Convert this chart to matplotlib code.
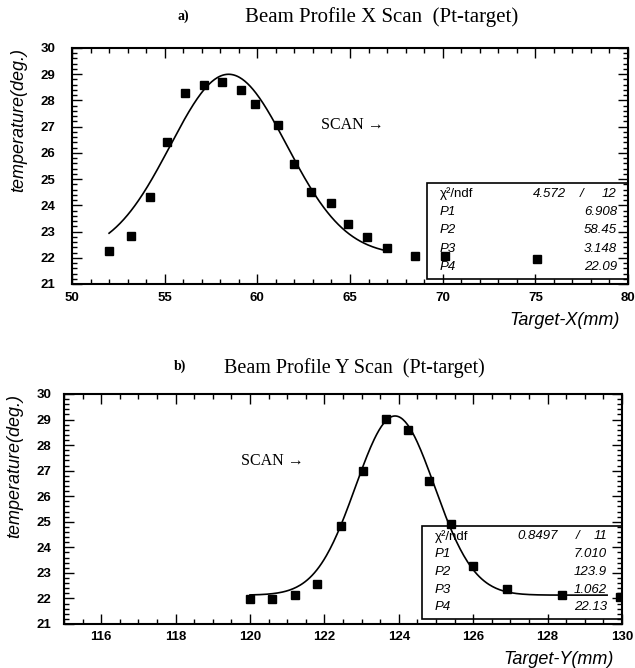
import numpy as np
import matplotlib.pyplot as plt
from matplotlib.patches import Rectangle
from matplotlib.ticker import MultipleLocator

# a) X scan : target position (mm) vs temperature (deg.)
x_scan_pos = [52.0, 53.2, 54.2, 55.1, 56.1, 57.1, 58.1, 59.1, 59.9, 61.1,
              62.0, 62.9, 64.0, 64.9, 65.9, 67.0, 68.5, 70.1, 75.1]
x_scan_temp = [22.24, 22.83, 24.33, 26.41, 28.28, 28.59, 28.69, 28.38, 27.86, 27.07,
               25.57, 24.49, 24.09, 23.30, 22.79, 22.39, 22.08, 22.08, 21.96]
x_fit_par = ["6.908", "58.45", "3.148", "22.09"]       # P1..P4 as printed
x_fit_range = (52.0, 66.8)
x_chi2 = ("4.572", "12")

# b) Y scan
y_scan_pos = [120.0, 120.6, 121.2, 121.8, 122.45, 123.05, 123.65, 124.25, 124.8,
              125.4, 126.0, 126.9, 128.4, 129.95]
y_scan_temp = [21.96, 21.96, 22.15, 22.55, 24.83, 27.0, 29.03, 28.59, 26.6,
               24.9, 23.28, 22.38, 22.15, 22.05]
y_fit_par = ["7.010", "123.9", "1.062", "22.13"]
y_fit_range = (120.0, 129.6)
y_chi2 = ("0.8497", "11")

SANS = ["Liberation Sans", "DejaVu Sans"]
SERIF = ["Liberation Serif", "DejaVu Serif"]


def gauss(x, p):
    return p[3] + p[0] * np.exp(-0.5 * ((x - p[1]) / p[2]) ** 2)


def draw_panel(ax, pos, temp, par, fit_range, chi2, xlim, xmaj, xmin,
               xlabel, ylpad, xlpad, box, scan_xy):
    ax.plot(pos, temp, "s", color="black", ms=5.5)
    xf = np.linspace(fit_range[0], fit_range[1], 300)
    ax.plot(xf, gauss(xf, [float(p) for p in par]), color="black", lw=1.2)

    ax.set_xlim(*xlim)
    ax.set_ylim(21, 30)
    ax.xaxis.set_major_locator(MultipleLocator(xmaj))
    ax.xaxis.set_minor_locator(MultipleLocator(xmin))
    ax.yaxis.set_major_locator(MultipleLocator(1))
    ax.yaxis.set_minor_locator(MultipleLocator(0.2))
    ax.tick_params(which="both", direction="in", top=True, right=True, width=1.0)
    ax.tick_params(which="major", length=7)
    ax.tick_params(which="minor", length=3.5)
    ax.tick_params(axis="y", pad=ylpad)
    ax.tick_params(axis="x", pad=xlpad)
    for lab in ax.get_xticklabels() + ax.get_yticklabels():
        lab.set_family(SANS)
        lab.set_fontweight("bold")
        lab.set_fontsize(9.5)
    for s in ax.spines.values():
        s.set_linewidth(1.5)

    ax.text(scan_xy[0], scan_xy[1], "SCAN \u2192", transform=ax.transAxes,
            family=SERIF, fontsize=11.5, va="center", ha="left")

    # fit statistics box
    bx0, by0, by1, lx, vx, cx, sx = box
    ax.add_patch(Rectangle((bx0, by0), 1 - bx0, by1 - by0, transform=ax.transAxes,
                           fill=False, lw=1.2, ec="black", clip_on=False))
    rows = np.linspace(by1 - 0.045, by0 + 0.05, 5)
    kw = dict(transform=ax.transAxes, family=SANS, fontsize=9.5, va="center")
    ax.text(lx, rows[0], "\u03c7\u00b2/ndf", ha="left", **kw)
    ax.text(cx, rows[0], chi2[0], style="italic", ha="right", **kw)
    ax.text(sx, rows[0], "/", style="italic", ha="center", **kw)
    ax.text(vx, rows[0], chi2[1], style="italic", ha="right", **kw)
    for i, p in enumerate(par):
        ax.text(lx, rows[i + 1], f"P{i + 1}", style="italic", ha="left", **kw)
        ax.text(vx, rows[i + 1], p, style="italic", ha="right", **kw)

    ax.text(0.985, -0.155, xlabel, transform=ax.transAxes, family=SANS,
            style="italic", fontsize=13, ha="right", va="center")


fig = plt.figure(figsize=(6.35, 6.68), dpi=100)

ax1 = fig.add_axes([72 / 635, 1 - 284 / 668, 556 / 635, 236 / 668])
draw_panel(ax1, x_scan_pos, x_scan_temp, x_fit_par, x_fit_range, x_chi2,
           (50, 80), 5, 1, "Target-X(mm)", 12, 6,
           (0.638, 0.021, 0.428, 0.662, 0.980, 0.888, 0.917), (0.447, 0.674))
ax1.text(-0.095, 1.0, "temperature(deg.)", transform=ax1.transAxes, family=SANS,
         style="italic", fontsize=13, rotation=90, ha="center", va="top")

ax2 = fig.add_axes([64 / 635, 1 - 624 / 668, 558 / 635, 230 / 668])
draw_panel(ax2, y_scan_pos, y_scan_temp, y_fit_par, y_fit_range, y_chi2,
           (115, 130), 2, 0.5, "Target-Y(mm)", 9, 5,
           (0.642, 0.022, 0.426, 0.665, 0.973, 0.885, 0.921), (0.317, 0.709))
ax2.text(-0.088, 1.0, "temperature(deg.)", transform=ax2.transAxes, family=SANS,
         style="italic", fontsize=13, rotation=90, ha="center", va="top")

# titles
fig.text(183 / 635, 1 - 20 / 668, "a)", family=SERIF, fontsize=10, weight="bold",
         ha="center", va="baseline")
fig.text(382 / 635, 1 - 22 / 668, "Beam Profile X Scan  (Pt-target)", family=SERIF,
         fontsize=15, ha="center", va="baseline")
fig.text(180 / 635, 1 - 370 / 668, "b)", family=SERIF, fontsize=10, weight="bold",
         ha="center", va="baseline")
fig.text(354 / 635, 1 - 373 / 668, "Beam Profile Y Scan  (Pt-target)", family=SERIF,
         fontsize=14.5, ha="center", va="baseline")

fig.savefig("out.png", dpi=100)
